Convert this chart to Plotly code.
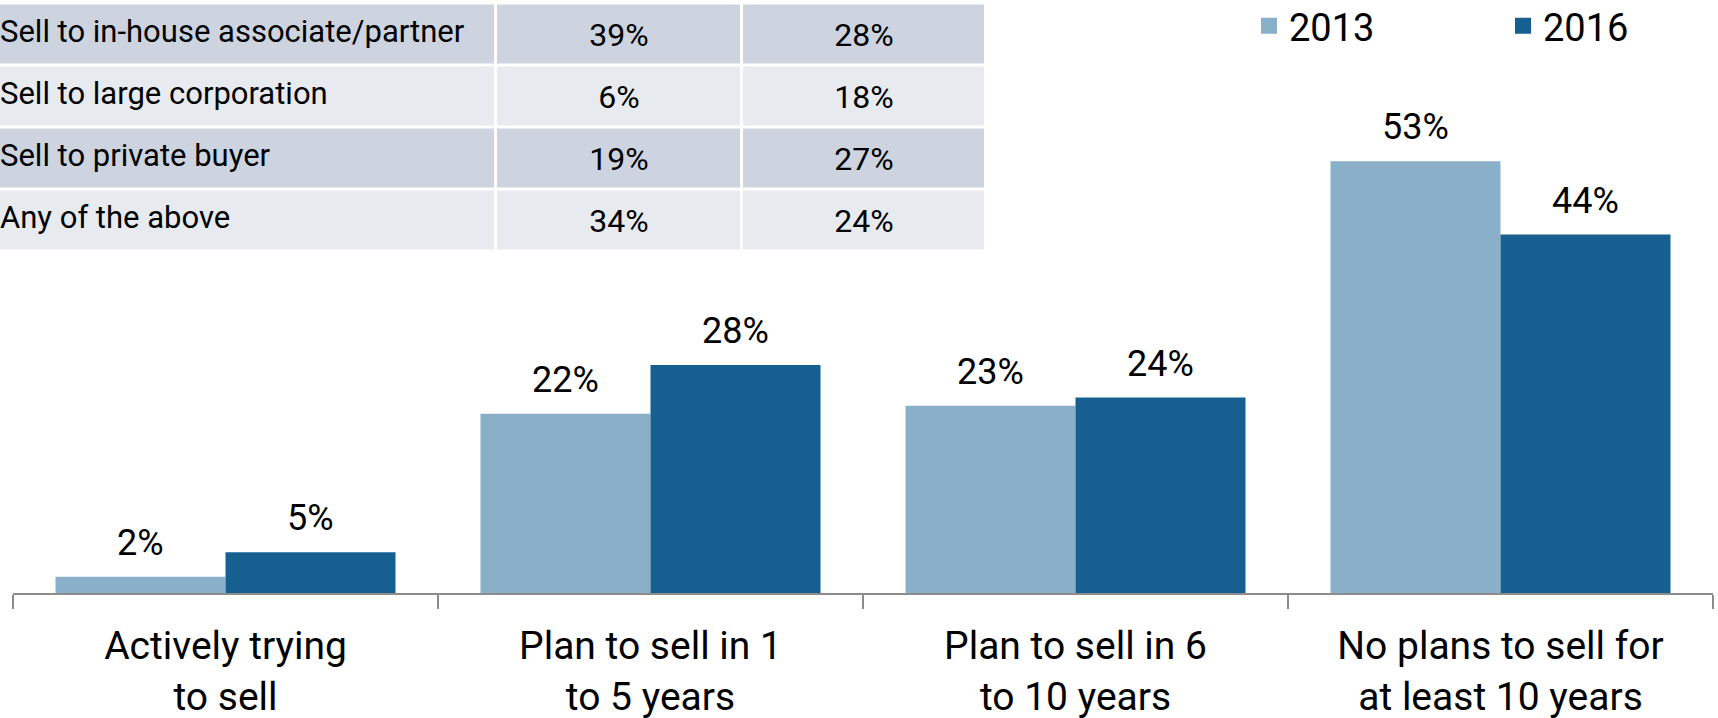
import plotly.graph_objects as go

# ---- data ----
categories = ["Actively trying<br>to sell", "Plan to sell in 1<br>to 5 years",
              "Plan to sell in 6<br>to 10 years", "No plans to sell for<br>at least 10 years"]
years = ["2013", "2016"]
values_2013 = [2, 22, 23, 53]
values_2016 = [5, 28, 24, 44]

table_labels = ["Sell to in-house associate/partner", "Sell to large corporation",
                "Sell to private buyer", "Any of the above"]
table_2013 = ["39%", "6%", "19%", "34%"]
table_2016 = ["28%", "18%", "27%", "24%"]

# ---- styles ----
W, H = 1718, 718
FONT = "Roboto, 'Open Sans', sans-serif"
C_LIGHT = "#89AFC9"
C_DARK = "#156090"
ROW_DARK = "#CDD4DF"
ROW_LIGHT = "#E7EAEF"
AXIS_GRAY = "#8C8C8C"

plot_left, plot_right = 13, 1713
plot_bottom = 593
y_max = 72.8

# table geometry (1 axis unit = 1 px, axis starts at pixel 0)
table_width = 984
col_edges = [-2, 496, 742, 986]
table_top, table_bottom = 3.5, 251.5
label_x = 0

fig = go.Figure()

series = [(years[0], values_2013, C_LIGHT), (years[1], values_2016, C_DARK)]
for name, vals, col in series:
    fig.add_trace(go.Bar(
        x=categories, y=vals, name=name, marker=dict(color=col, line=dict(width=0)),
        showlegend=False, hoverinfo="skip",
    ))
    # legend entry with larger square symbol
    fig.add_trace(go.Scatter(
        x=[None], y=[None], mode="markers", name=name,
        marker=dict(symbol="square", size=16, color=col),
    ))

# value labels above bars
annotations = []
offsets = [-0.2, 0.2]
for k, (name, vals, col) in enumerate(series):
    for j, v in enumerate(vals):
        annotations.append(dict(
            x=j + offsets[k], y=v, xref="x", yref="y", text=f"{v}%",
            showarrow=False, yanchor="bottom", yshift=11,
            font=dict(family=FONT, size=36, color="#000000"),
        ))

# table (top-left): cell fills as a heatmap with white gaps
row_shade = [1 if i % 2 == 0 else 0 for i in range(len(table_labels))]
z = [[s, s, s] for s in row_shade]
cell_text = [["", a, b] for a, b in zip(table_2013, table_2016)]
fig.add_trace(go.Heatmap(
    x=col_edges, y=table_labels, z=z, text=cell_text, texttemplate="%{text}",
    textfont=dict(family=FONT, size=32, color="#000000"),
    colorscale=[[0, ROW_LIGHT], [1, ROW_DARK]], zmin=0, zmax=1, showscale=False,
    xgap=3, ygap=3, hoverinfo="skip", xaxis="x2", yaxis="y2",
))
fig.add_trace(go.Scatter(
    x=[label_x] * len(table_labels), y=table_labels, mode="text", text=table_labels,
    textposition="middle right", textfont=dict(family=FONT, size=31, color="#000000"),
    cliponaxis=False, showlegend=False, hoverinfo="skip", xaxis="x2", yaxis="y2",
))

fig.update_layout(
    width=W, height=H,
    margin=dict(l=0, r=0, t=0, b=0, pad=0, autoexpand=False),
    paper_bgcolor="white", plot_bgcolor="rgba(0,0,0,0)",
    barmode="group", bargap=0.2, bargroupgap=0,
    font=dict(family=FONT, color="#000000"),
    annotations=annotations,
    legend=dict(
        orientation="h", x=1249 / W, xanchor="left", y=1 - 26 / H, yanchor="middle",
        font=dict(family=FONT, size=38, color="#000000"),
        entrywidth=209, entrywidthmode="pixels", itemwidth=30,
        bgcolor="rgba(0,0,0,0)",
    ),
    xaxis=dict(
        domain=[plot_left / W, plot_right / W],
        showline=True, linecolor=AXIS_GRAY, linewidth=2,
        ticks="outside", tickson="boundaries", ticklen=14, tickwidth=2, tickcolor=AXIS_GRAY,
        tickfont=dict(family=FONT, size=39, color="#000000"),
        ticklabelstandoff=17, automargin=False,
        showgrid=False, zeroline=False, fixedrange=True,
    ),
    yaxis=dict(
        domain=[1 - plot_bottom / H, 1], automargin=False,
        range=[0, y_max], visible=False, showgrid=False, zeroline=False, fixedrange=True,
    ),
    xaxis2=dict(
        domain=[0, table_width / W], range=[0, table_width], anchor="y2",
        visible=False, fixedrange=True, automargin=False,
    ),
    yaxis2=dict(
        domain=[1 - table_bottom / H, 1 - table_top / H], anchor="x2",
        range=[len(table_labels) - 0.5, -0.5], type="category",
        visible=False, fixedrange=True, automargin=False,
    ),
)

fig.write_html(
    "out.html",
    config={"displayModeBar": False},
    post_script="document.body.style.margin='0';document.body.style.overflow='hidden';",
)
